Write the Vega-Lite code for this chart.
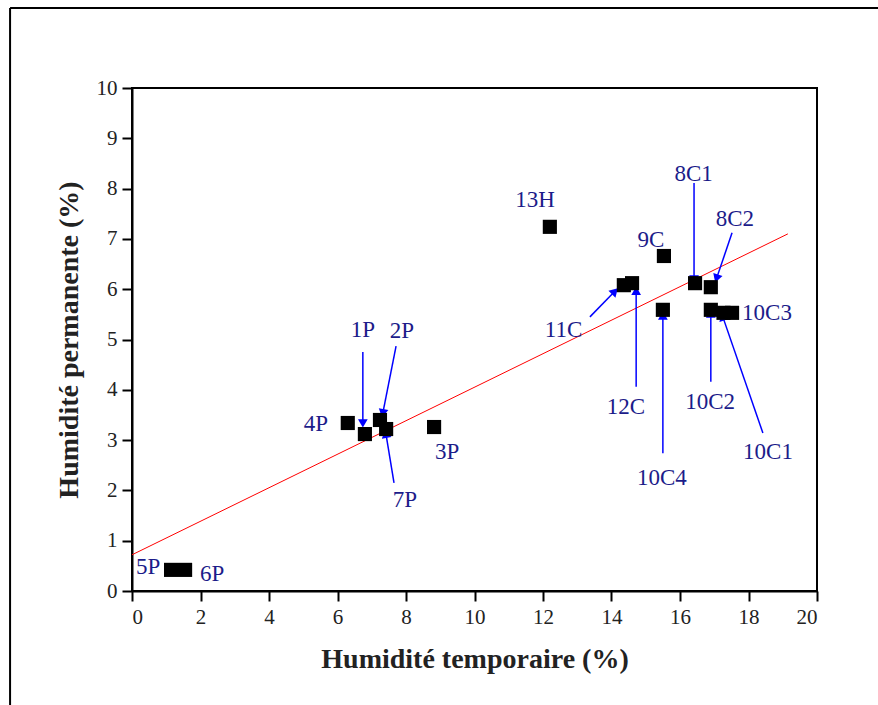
{
  "$schema": "https://vega.github.io/schema/vega-lite/v6.json",
  "width": 685,
  "height": 503,
  "autosize": "none",
  "padding": {"left": 132, "top": 88, "right": 61, "bottom": 114},
  "background": "white",
  "config": {
    "view": {"stroke": "black", "strokeWidth": 2},
    "font": "Liberation Serif",
    "axis": {
      "grid": false,
      "domainColor": "black",
      "domainWidth": 2,
      "tickColor": "black",
      "tickWidth": 2,
      "tickSize": 10,
      "labelFont": "Liberation Serif",
      "labelFontSize": 21,
      "labelColor": "#222",
      "titleFont": "Liberation Serif",
      "titleFontSize": 28,
      "titleFontWeight": "bold",
      "titleColor": "#222"
    }
  },
  "datasets": {
    "points": [
      {"name": "5P", "temp": 1.14, "perm": 0.42},
      {"name": "6P", "temp": 1.55, "perm": 0.42},
      {"name": "4P", "temp": 6.3, "perm": 3.34},
      {"name": "1P", "temp": 6.8, "perm": 3.12},
      {"name": "2P", "temp": 7.24, "perm": 3.4},
      {"name": "7P", "temp": 7.42, "perm": 3.22},
      {"name": "3P", "temp": 8.82, "perm": 3.26},
      {"name": "13H", "temp": 12.2, "perm": 7.24},
      {"name": "11C", "temp": 14.36, "perm": 6.08},
      {"name": "12C", "temp": 14.6, "perm": 6.12},
      {"name": "9C", "temp": 15.53, "perm": 6.66},
      {"name": "10C4", "temp": 15.5, "perm": 5.59},
      {"name": "8C1", "temp": 16.44, "perm": 6.12},
      {"name": "8C2", "temp": 16.9, "perm": 6.04},
      {"name": "10C2", "temp": 16.9, "perm": 5.59},
      {"name": "10C1", "temp": 17.27, "perm": 5.53},
      {"name": "10C3", "temp": 17.52, "perm": 5.53}
    ],
    "labels": [
      {"name": "5P", "lx": 0.47, "ly": 0.48},
      {"name": "6P", "lx": 2.34, "ly": 0.34},
      {"name": "4P", "lx": 5.37, "ly": 3.32},
      {"name": "1P", "lx": 6.74, "ly": 5.19},
      {"name": "2P", "lx": 7.88, "ly": 5.17},
      {"name": "7P", "lx": 7.97, "ly": 1.81},
      {"name": "3P", "lx": 9.2, "ly": 2.76},
      {"name": "13H", "lx": 11.77, "ly": 7.77},
      {"name": "9C", "lx": 15.15, "ly": 6.98},
      {"name": "8C1", "lx": 16.4, "ly": 8.29},
      {"name": "8C2", "lx": 17.6, "ly": 7.4},
      {"name": "11C", "lx": 12.6, "ly": 5.19},
      {"name": "12C", "lx": 14.42, "ly": 3.66},
      {"name": "10C4", "lx": 15.47, "ly": 2.25},
      {"name": "10C2", "lx": 16.88, "ly": 3.76},
      {"name": "10C1", "lx": 18.57, "ly": 2.76},
      {"name": "10C3", "lx": 18.54, "ly": 5.53}
    ],
    "arrows": [
      {"name": "1P", "x1": 6.74, "y1": 4.75, "x2": 6.74, "y2": 3.36},
      {"name": "2P", "x1": 7.71, "y1": 4.87, "x2": 7.33, "y2": 3.56},
      {"name": "7P", "x1": 7.65, "y1": 2.15, "x2": 7.42, "y2": 3.1},
      {"name": "11C", "x1": 13.37, "y1": 5.45, "x2": 14.07, "y2": 5.94},
      {"name": "12C", "x1": 14.72, "y1": 4.06, "x2": 14.72, "y2": 5.94},
      {"name": "10C4", "x1": 15.5, "y1": 2.74, "x2": 15.5, "y2": 5.45},
      {"name": "8C1", "x1": 16.41, "y1": 8.11, "x2": 16.41, "y2": 6.22},
      {"name": "8C2", "x1": 17.52, "y1": 7.12, "x2": 17.08, "y2": 6.24},
      {"name": "10C2", "x1": 16.9, "y1": 4.16, "x2": 16.9, "y2": 5.49},
      {"name": "10C1", "x1": 18.42, "y1": 3.14, "x2": 17.26, "y2": 5.43}
    ],
    "fit": [
      {"x1": 0, "y1": 0.72, "x2": 19.15, "y2": 7.1}
    ],
    "frame": [
      {"x1": -3.56, "y1": 11.59, "x2": -3.56, "y2": -3},
      {"x1": -3.56, "y1": 11.59, "x2": 25, "y2": 11.59}
    ]
  },
  "layer": [
    {
      "data": {"name": "frame"},
      "mark": {"type": "rule", "color": "black", "strokeWidth": 2, "clip": false},
      "encoding": {
        "x": {"field": "x1", "type": "quantitative", "scale": {"domain": [0, 20]},
              "axis": {"values": [0, 2, 4, 6, 8, 10, 12, 14, 16, 18, 20], "title": "Humidité temporaire (%)", "labelPadding": 5, "titlePadding": 18}},
        "y": {"field": "y1", "type": "quantitative", "scale": {"domain": [0, 10]},
              "axis": {"values": [0, 1, 2, 3, 4, 5, 6, 7, 8, 9, 10], "title": "Humidité permanente (%)", "labelPadding": 5, "titlePadding": 13}},
        "x2": {"field": "x2"},
        "y2": {"field": "y2"}
      }
    },
    {
      "data": {"name": "fit"},
      "mark": {"type": "rule", "color": "#ff0000", "strokeWidth": 1},
      "encoding": {
        "x": {"field": "x1", "type": "quantitative"},
        "y": {"field": "y1", "type": "quantitative"},
        "x2": {"field": "x2"},
        "y2": {"field": "y2"}
      }
    },
    {
      "data": {"name": "arrows"},
      "mark": {"type": "rule", "color": "#0000ff", "strokeWidth": 1.5},
      "encoding": {
        "x": {"field": "x1", "type": "quantitative"},
        "y": {"field": "y1", "type": "quantitative"},
        "x2": {"field": "x2"},
        "y2": {"field": "y2"}
      }
    },
    {
      "data": {"name": "arrows"},
      "transform": [
        {"calculate": "atan2((datum.x2 - datum.x1) * 34.25, (datum.y2 - datum.y1) * 50.3) * 180 / PI", "as": "ang"}
      ],
      "mark": {"type": "point", "shape": "triangle", "filled": true, "color": "#0000ff", "size": 95, "opacity": 1},
      "encoding": {
        "x": {"field": "x2", "type": "quantitative"},
        "y": {"field": "y2", "type": "quantitative"},
        "angle": {"field": "ang", "type": "quantitative", "scale": null}
      }
    },
    {
      "data": {"name": "points"},
      "mark": {"type": "square", "color": "black", "size": 200, "opacity": 1},
      "encoding": {
        "x": {"field": "temp", "type": "quantitative"},
        "y": {"field": "perm", "type": "quantitative"}
      }
    },
    {
      "data": {"name": "labels"},
      "mark": {"type": "text", "color": "#1c1c8a", "fontSize": 23, "font": "Liberation Serif", "align": "center", "baseline": "middle"},
      "encoding": {
        "x": {"field": "lx", "type": "quantitative"},
        "y": {"field": "ly", "type": "quantitative"},
        "text": {"field": "name"}
      }
    }
  ]
}
